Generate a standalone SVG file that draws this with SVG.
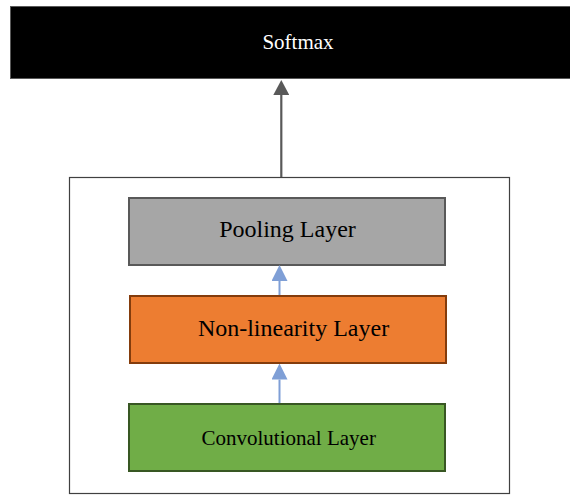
<svg xmlns="http://www.w3.org/2000/svg" width="570" height="495" viewBox="0 0 570 495">
<style>
text{font-family:"Liberation Serif","Times New Roman",serif;text-anchor:middle}
.box{stroke-width:2}
</style>
<defs>
<marker id="ag" markerWidth="15" markerHeight="16" refX="0" refY="8" orient="auto" markerUnits="userSpaceOnUse" viewBox="0 0 15 16"><path d="M0,0 L15,8 L0,16 Z" fill="#595959"/></marker>
<marker id="ab" markerWidth="16" markerHeight="16" refX="0" refY="8" orient="auto" markerUnits="userSpaceOnUse" viewBox="0 0 16 16"><path d="M0,0 L16,8 L0,16 Z" fill="#7f9fd6"/></marker>
</defs>
<rect width="570" height="495" fill="#fff"/>
<g id="softmax">
<rect x="10.5" y="6.5" width="562" height="72" fill="#000" stroke="#595959" stroke-width="1"/>
<text x="298" y="49" font-size="21" fill="#fff">Softmax</text>
</g>
<g id="cnn-block">
<rect x="69.5" y="177.5" width="440" height="316" fill="#fff" stroke="#404040" stroke-width="1.2"/>
</g>
<g id="pooling">
<rect class="box" x="129" y="198" width="316" height="67" fill="#a6a6a6" stroke="#595959"/>
<text x="287.5" y="237" font-size="24" fill="#000">Pooling Layer</text>
</g>
<g id="nonlinearity">
<rect class="box" x="130" y="296" width="316" height="67" fill="#ed7d31" stroke="#843c0c"/>
<text x="293.5" y="336" font-size="24" fill="#000">Non-linearity Layer</text>
</g>
<g id="convolutional">
<rect class="box" x="129" y="404" width="316" height="67" fill="#70ad47" stroke="#385723"/>
<text x="288.7" y="445" font-size="21" fill="#000">Convolutional Layer</text>
</g>
<g id="connectors">
<line x1="281.3" y1="177" x2="281.3" y2="95" stroke="#595959" stroke-width="2.2" marker-end="url(#ag)"/>
<line x1="279.5" y1="295" x2="279.5" y2="281" stroke="#7f9fd6" stroke-width="2" marker-end="url(#ab)"/>
<line x1="279.5" y1="403" x2="279.5" y2="379.5" stroke="#7f9fd6" stroke-width="2" marker-end="url(#ab)"/>
</g>
</svg>
